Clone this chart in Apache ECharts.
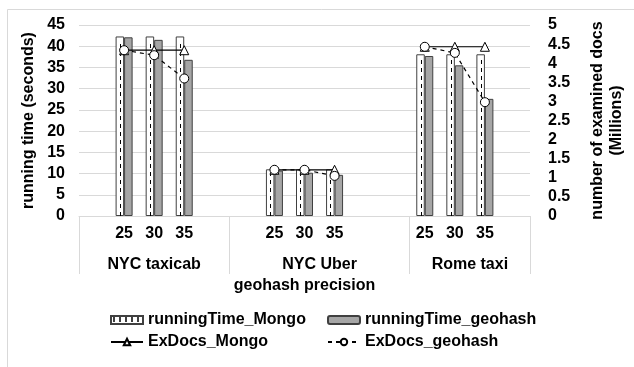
<!DOCTYPE html>
<html>
<head>
<meta charset="utf-8">
<script src="https://cdn.jsdelivr.net/npm/echarts@6/dist/echarts.min.js"></script>
<style>html,body{margin:0;padding:0;background:#fff;}#c{width:634px;height:367px;}</style>
</head>
<body>
<div id="c"></div>
<script>
// ---- data ----
var categories = ['', '25', '30', '35', '', '', '25', '30', '35', '', '', '25', '30', '35', ''];
var groups = ['NYC taxicab', 'NYC Uber', 'Rome taxi'];
var groupSlots = [5, 6, 4];
var runningTimeMongo = [null, 42.3, 42.3, 42.3, null, null, 11.0, 11.0, 11.0, null, null, 38.1, 38.1, 38.1, null];
var runningTimeGeohash = [null, 42.1, 41.5, 36.8, null, null, 10.7, 10.2, 9.7, null, null, 37.7, 35.5, 27.6, null];
var exDocsMongo = [null, 4.34, 4.34, 4.34, null, null, 1.21, 1.21, 1.21, null, null, 4.43, 4.43, 4.43, null];
var exDocsGeohash = [null, 4.34, 4.21, 3.6, null, null, 1.21, 1.21, 1.05, null, null, 4.43, 4.27, 2.98, null];
var leftTicks = { min: 0, max: 45, interval: 5 };
var rightTicks = { min: 0, max: 5, interval: 0.5 };

// ---- derived ----
var bounds = [0];
groupSlots.forEach(function (n) { bounds.push(bounds[bounds.length - 1] + n); });
var groupCenters = groups.map(function (g, i) { return (bounds[i] + bounds[i + 1]) / 2; });

var FONT = 'Liberation Sans, Arial, sans-serif';
var txt = { fontFamily: FONT, fontWeight: 'bold', fontSize: 16, color: '#000' };
var BW = 8.5;

var chart = echarts.init(document.getElementById('c'), null, { renderer: 'canvas' });

var mongoDash = [];
runningTimeMongo.forEach(function (v, i) { if (v != null) mongoDash.push([i, v]); });

function legendItem(name, left, top, extra) {
  var l = {
    data: [name], left: left, top: top, itemWidth: 32, itemHeight: 8, itemGap: 0, padding: 0,
    textStyle: txt, selectedMode: false
  };
  return Object.assign(l, extra || {});
}

var mongoIcon = 'path://M0,0H32V8H0Z M3,0V6 M9,0V6 M15,0V6 M21,0V6 M27,0V6';

chart.setOption({
  animation: false,
  backgroundColor: '#fff',
  graphic: [{
    type: 'rect', shape: { x: 7.5, y: 9.5, width: 700, height: 500 },
    style: { fill: 'none', stroke: '#d9d9d9', lineWidth: 1 }, silent: true, z: -10
  }],
  grid: { left: 79, right: 94, top: 25, bottom: 151 },
  legend: [
    { data: [{ name: 'runningTime_Mongo', icon: mongoIcon }], left: 110, top: 312, itemWidth: 32, itemHeight: 8, padding: 0, textStyle: txt, selectedMode: false },
    legendItem('runningTime_geohash', 327, 312),
    legendItem('ExDocs_Mongo', 110, 334),
    legendItem('ExDocs_geohash', 327, 334)
  ],
  xAxis: [{
    type: 'category', data: categories,
    axisLine: { lineStyle: { color: '#d9d9d9' } },
    axisTick: { show: false },
    axisLabel: Object.assign({}, txt, { margin: 10, interval: 0 }),
    splitLine: { show: false }
  }, {
    type: 'value', min: 0, max: bounds[bounds.length - 1], position: 'bottom',
    axisLine: { show: false },
    axisTick: { show: true, customValues: bounds, length: 58, lineStyle: { color: '#d9d9d9' } },
    axisLabel: Object.assign({}, txt, {
      margin: 41, customValues: groupCenters,
      formatter: function (v) {
        for (var i = 0; i < groupCenters.length; i++) if (Math.abs(groupCenters[i] - v) < 1e-6) return groups[i];
        return '';
      }
    }),
    splitLine: { show: false },
    name: 'geohash precision', nameLocation: 'middle', nameGap: 62,
    nameTextStyle: txt
  }],
  yAxis: [{
    type: 'value', min: leftTicks.min, max: leftTicks.max, interval: leftTicks.interval,
    axisLine: { show: false }, axisTick: { show: false },
    axisLabel: Object.assign({}, txt, { margin: 14 }),
    splitLine: { lineStyle: { color: '#d9d9d9' } },
    name: 'running time (seconds)', nameLocation: 'middle', nameGap: 34, nameRotate: 90,
    nameTextStyle: txt
  }, {
    type: 'value', min: rightTicks.min, max: rightTicks.max, interval: rightTicks.interval, position: 'right',
    axisLine: { show: false }, axisTick: { show: false },
    axisLabel: Object.assign({}, txt, { margin: 18, align: 'left' }),
    splitLine: { show: false },
    name: 'number of examined docs\n(Millions)', nameLocation: 'middle', nameGap: 58, nameRotate: 90,
    nameTextStyle: Object.assign({}, txt, { lineHeight: 19 })
  }],
  series: [{
    name: 'runningTime_Mongo', type: 'bar', data: runningTimeMongo, barWidth: BW, barGap: '0%',
    itemStyle: { color: '#fff', borderColor: '#404040', borderWidth: 1 }, z: 2
  }, {
    name: 'runningTime_geohash', type: 'bar', data: runningTimeGeohash, barWidth: BW, barGap: '0%',
    itemStyle: { color: '#a6a6a6', borderColor: '#404040', borderWidth: 1 }, z: 2
  }, {
    name: 'mongoPattern', type: 'custom', data: mongoDash, z: 3, silent: true,
    renderItem: function (params, api) {
      var x = api.value(0), v = api.value(1);
      var p0 = api.coord([x, 0]), p1 = api.coord([x, v]);
      var cx = Math.round(p0[0] - BW / 2) + 0.5;
      return {
        type: 'line',
        shape: { x1: cx, y1: p0[1], x2: cx, y2: p1[1] + 4 },
        style: { stroke: '#000', lineWidth: 1, lineDash: [4, 4] }
      };
    }
  }, {
    name: 'ExDocs_Mongo', type: 'line', yAxisIndex: 1, data: exDocsMongo, connectNulls: false,
    symbol: 'triangle', symbolSize: 9, showAllSymbol: true,
    lineStyle: { color: '#000', width: 1.2 },
    itemStyle: { color: '#fff', borderColor: '#000', borderWidth: 1 }, z: 5
  }, {
    name: 'ExDocs_geohash', type: 'line', yAxisIndex: 1, data: exDocsGeohash, connectNulls: false,
    symbol: 'circle', symbolSize: 9, showAllSymbol: true,
    lineStyle: { color: '#000', width: 1.2, type: [4, 4] },
    itemStyle: { color: '#fff', borderColor: '#000', borderWidth: 1 }, z: 5
  }]
});
</script>
</body>
</html>
